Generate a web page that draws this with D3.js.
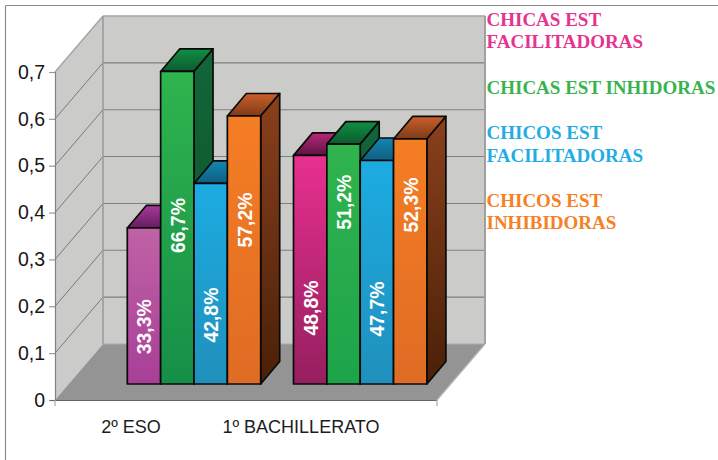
<!DOCTYPE html>
<html><head><meta charset="utf-8">
<style>html,body{margin:0;padding:0;background:#fff}svg{display:block}</style>
<script src="https://cdn.jsdelivr.net/npm/d3@7"></script></head>
<body><svg id="c" width="718" height="460"></svg>
<script>
const categories = ["2º ESO", "1º BACHILLERATO"];
const seriesNames = ["CHICAS EST FACILITADORAS", "CHICAS EST INHIDORAS", "CHICOS EST FACILITADORAS", "CHICOS EST INHIBIDORAS"];
const chicasFacilitadoras = [0.333, 0.488];
const chicasInhibidoras = [0.667, 0.512];
const chicosFacilitadoras = [0.428, 0.477];
const chicosInhibidoras = [0.572, 0.523];
const seriesValues = [chicasFacilitadoras, chicasInhibidoras, chicosFacilitadoras, chicosInhibidoras];
const percentLabels = [["33,3%", "48,8%"], ["66,7%", "51,2%"], ["42,8%", "47,7%"], ["57,2%", "52,3%"]];
const labelLevels = [[0.122, 0.162], [0.338, 0.388], [0.147, 0.16], [0.35, 0.382]];
const yTicks = [0, 0.1, 0.2, 0.3, 0.4, 0.5, 0.6, 0.7];
const legendLines = [["CHICAS EST", "FACILITADORAS"], ["CHICAS EST INHIDORAS"], ["CHICOS EST", "FACILITADORAS"], ["CHICOS EST", "INHIBIDORAS"]];
const legendBaselines = [[26, 48.3], [94], [138.7, 161.7], [207, 229.3]];
const legendColors = ["#e5338f", "#38b44f", "#1fade3", "#f58025"];
// [front top, front bottom, side top, side bottom, cap back, cap front], per group then series
const palette = [
 [["#c062a6","#a83f98","#7d2a77","#5a1a55","#a8399a","#641c60"],
  ["#2fb44e","#158f47","#126639","#0c5029","#0f8f44","#0e5a2e"],
  ["#1cace2","#2090bc","#0f6e92","#0b4d68","#1485b0","#0f5f80"],
  ["#f57d24","#df6c24","#8a401c","#4a2008","#c9602a","#7f3a18"]],
 [["#e8308f","#951f5f","#8a1c5c","#5a1038","#b52a7c","#5f1240"],
  ["#2fb44e","#1da44a","#126639","#0c5029","#0f8f44","#0e5a2e"],
  ["#1cace2","#2090bc","#0f6e92","#0b4d68","#1485b0","#0f5f80"],
  ["#f57d24","#df6c24","#8a401c","#4a2008","#c9602a","#7f3a18"]]
];

const svg = d3.select("#c");
const defs = svg.append("defs");
const FX0 = 55, FX1 = 437, DX = 48, DY = 56;     // front floor edge and wall depth
const BDX = 19, BDY = 22.5, BASE_LIFT = 16;      // bar depth and how far bars stand behind the front edge

const y = d3.scaleLinear().domain([0, 0.7]).range([400, 72]);
const groupX = d3.scaleBand().domain(categories).range([110.8, 443.2]);
const barX = d3.scaleBand().domain(seriesNames).range([16.5, 149.9]);
const labelX = d3.scalePoint().domain(categories).range([131, 301]);
const yBar = v => y(v) - BASE_LIFT;

// frame
const frame = svg.append("g").attr("fill","none").attr("stroke","#8a8a8a").attr("stroke-width",1.2);
frame.append("line").attr("x1",5.5).attr("x2",718).attr("y1",5.5).attr("y2",5.5);
frame.append("line").attr("x1",5.5).attr("x2",5.5).attr("y1",5.5).attr("y2",460);

// walls and floor
const top7 = y(0.7), zero = y(0);
svg.append("path").attr("fill","#cbcbca")
  .attr("d",`M${FX0},${zero}L${FX0},${top7}L${FX0+DX},${top7-DY}L${FX1+DX},${top7-DY}L${FX1+DX},${zero-DY}L${FX0+DX},${zero-DY}Z`);
svg.append("path").attr("fill","#949494")
  .attr("d",`M${FX0},${zero}L${FX1},${zero}L${FX1+DX},${zero-DY}L${FX0+DX},${zero-DY}Z`);

// gridlines
const grid = svg.append("g").attr("fill","none");
yTicks.filter(t => t > 0).forEach(t => {
  const major = t === 0.7;
  grid.append("line").attr("x1",FX0+DX).attr("x2",FX1+DX).attr("y1",y(t)-DY).attr("y2",y(t)-DY)
    .attr("stroke", major ? "#a4a4a4" : "#7f7f7f").attr("stroke-width", major ? 1.6 : 1.1);
  grid.append("line").attr("x1",FX0).attr("y1",y(t)).attr("x2",FX0+DX).attr("y2",y(t)-DY)
    .attr("stroke", major ? "#a4a4a4" : "#6f6f6f").attr("stroke-width", major ? 1.4 : 0.9);
});
grid.append("line").attr("x1",FX0+DX).attr("x2",FX0+DX).attr("y1",top7-DY).attr("y2",zero-DY).attr("stroke","#9c9c9c").attr("stroke-width",1.6);
grid.append("line").attr("x1",FX1+DX).attr("x2",FX1+DX).attr("y1",top7-DY).attr("y2",zero-DY).attr("stroke","#a0a0a0").attr("stroke-width",2);
grid.append("line").attr("x1",FX0+DX).attr("x2",FX1+DX).attr("y1",zero-DY).attr("y2",zero-DY).attr("stroke","#ababab").attr("stroke-width",1.2);
grid.append("line").attr("x1",FX1).attr("y1",zero).attr("x2",FX1+DX).attr("y2",zero-DY).attr("stroke","#b4b4b4").attr("stroke-width",1.2);

// y axis
const axis = d3.axisLeft(y).tickValues(yTicks).tickSize(6).tickPadding(4)
  .tickFormat(d => d === 0 ? "0" : String(d).replace(".", ","));
const ga = svg.append("g").attr("transform",`translate(${FX0},0)`).call(axis);
ga.select(".domain").attr("stroke","#808080").attr("stroke-width",1.2);
ga.selectAll(".tick line").attr("stroke","#9a9a9a").attr("stroke-width",1.2);
ga.selectAll("text").attr("font-family","'Liberation Sans',Arial,sans-serif").attr("font-size",19.5).attr("fill","#161616");

// floor front edge
svg.append("line").attr("x1",FX0-5).attr("x2",FX1).attr("y1",zero+0.5).attr("y2",zero+0.5).attr("stroke","#666").attr("stroke-width",1.2);
[FX0, FX1].forEach(x => svg.append("line").attr("x1",x).attr("x2",x).attr("y1",zero).attr("y2",zero+6).attr("stroke","#aaa").attr("stroke-width",1.2));

// category labels
svg.append("g").selectAll("text").data(categories).join("text")
  .attr("x", d => labelX(d)).attr("y", 432.7).attr("text-anchor","middle")
  .attr("font-family","'Liberation Sans',Arial,sans-serif").attr("font-size",18).attr("fill","#1c1c1c").text(d => d);

function grad(id, c0, c1) {
  const g = defs.append("linearGradient").attr("id",id).attr("x1",0).attr("y1",0).attr("x2",0).attr("y2",1);
  g.append("stop").attr("offset",0).attr("stop-color",c0);
  g.append("stop").attr("offset",1).attr("stop-color",c1);
  return `url(#${id})`;
}

// bars
categories.forEach((cat, gi) => {
  const layer = svg.append("g");
  seriesNames.forEach((name, si) => {
    const v = seriesValues[si][gi];
    const x0 = groupX(cat) + barX(name), x1 = x0 + barX.bandwidth();
    const yt = yBar(v), yb = yBar(0);
    const p = palette[gi][si];
    const id = `g${gi}s${si}`;
    const bar = layer.append("g").attr("stroke","#0a0a0a").attr("stroke-width",1.7).attr("stroke-linejoin","round");
    bar.append("path").attr("fill",grad(id+"c",p[4],p[5]))
      .attr("d",`M${x0},${yt}L${x0+BDX},${yt-BDY}L${x1+BDX},${yt-BDY}L${x1},${yt}Z`);
    bar.append("path").attr("fill",grad(id+"s",p[2],p[3]))
      .attr("d",`M${x1},${yt}L${x1+BDX},${yt-BDY}L${x1+BDX},${yb-BDY}L${x1},${yb}Z`);
    bar.append("rect").attr("x",x0).attr("y",yt).attr("width",x1-x0).attr("height",yb-yt).attr("fill",grad(id+"f",p[0],p[1]));
  });
});
// data labels above all bars
categories.forEach((cat, gi) => {
  seriesNames.forEach((name, si) => {
    const cx = groupX(cat) + barX(name) + barX.bandwidth()/2 + 0.5;
    const cy = yBar(labelLevels[si][gi]);
    svg.append("text").attr("transform",`translate(${cx},${cy}) rotate(-90)`)
      .attr("text-anchor","middle").attr("dy","0.36em")
      .attr("font-family","'Liberation Sans',Arial,sans-serif").attr("font-weight","bold").attr("font-size",19.4)
      .attr("fill","#fff").text(percentLabels[si][gi]);
  });
});

// legend
legendLines.forEach((lines, i) => {
  lines.forEach((ln, j) => {
    svg.append("text").attr("x",486.5).attr("y",legendBaselines[i][j])
      .attr("font-family","'Liberation Serif','Times New Roman',serif").attr("font-weight","bold").attr("font-size",19)
      .attr("fill",legendColors[i]).text(ln);
  });
});
</script></body></html>
